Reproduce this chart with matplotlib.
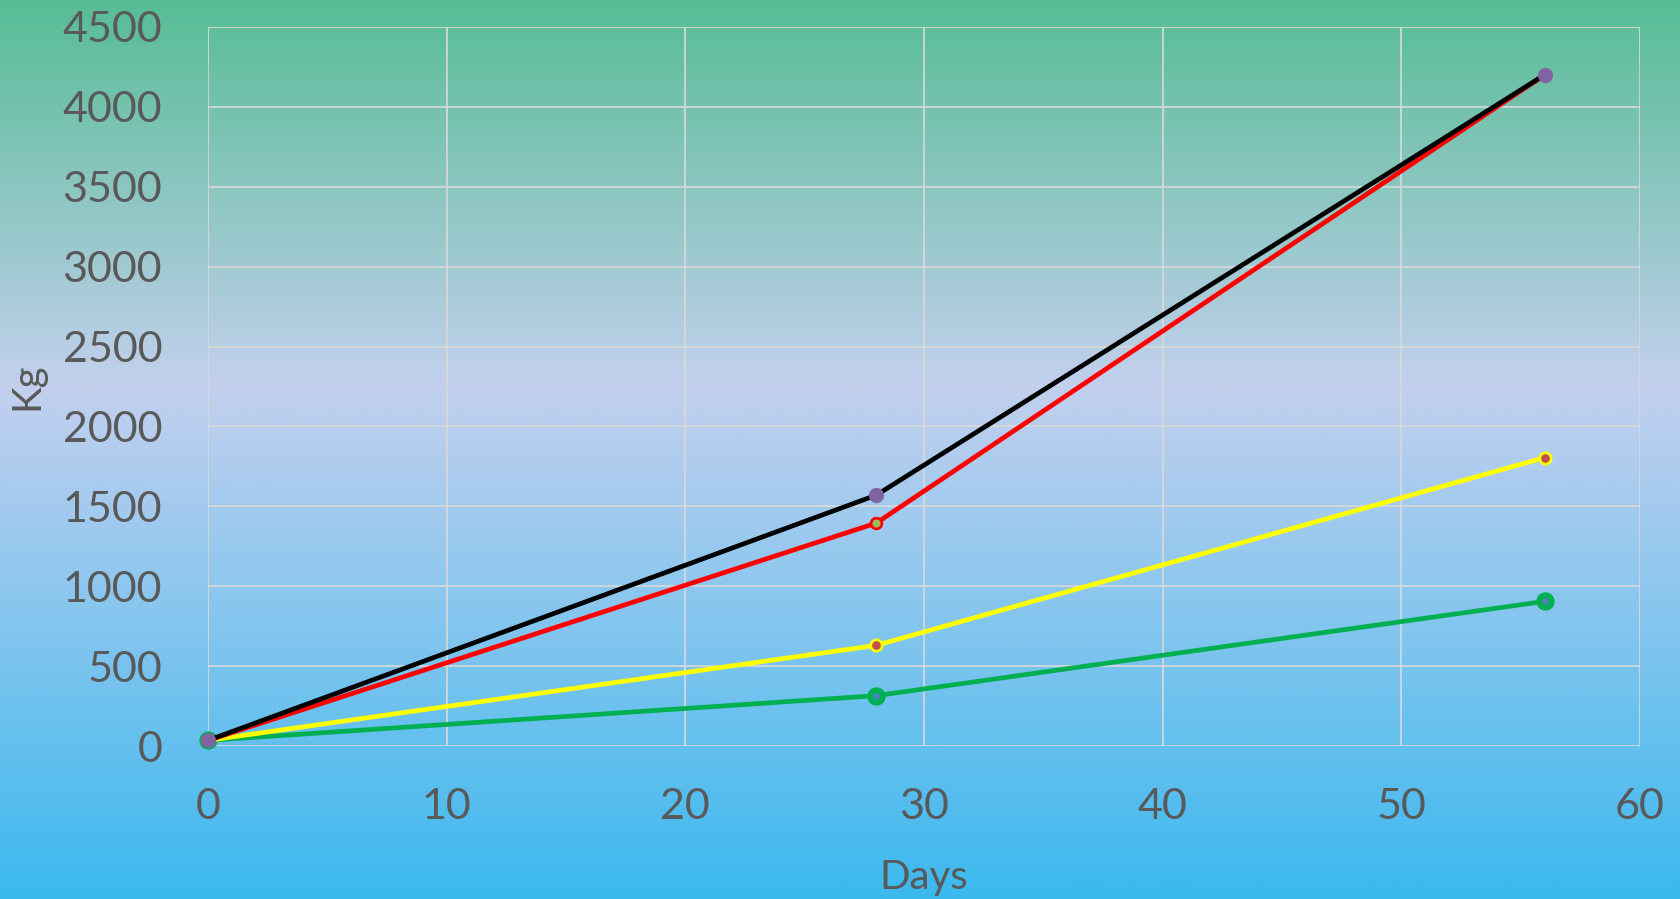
import numpy as np
import matplotlib
matplotlib.use("Agg")
import matplotlib.pyplot as plt
from matplotlib.colors import LinearSegmentedColormap

# Growth over time (kg) for four groups
days = [0, 28, 56]
series_black = [35, 1570, 4200]
series_red = [35, 1395, 4200]
series_yellow = [35, 630, 1805]
series_green = [35, 315, 905]

x_ticks = [0, 10, 20, 30, 40, 50, 60]
y_ticks = [0, 500, 1000, 1500, 2000, 2500, 3000, 3500, 4000, 4500]

plt.rcParams['font.family'] = ['Lato', 'DejaVu Sans']
text_color = '#595959'

fig = plt.figure(figsize=(16.8, 8.99), dpi=100)

# vertical gradient background
bg = fig.add_axes([0, 0, 1, 1], zorder=0)
cmap = LinearSegmentedColormap.from_list(
    'bg', [(0.0, '#57BD95'), (0.43, '#C3D0EE'), (1.0, '#3BB9EE')])
grad = np.linspace(0, 1, 512).reshape(-1, 1)
bg.imshow(grad, aspect='auto', cmap=cmap, extent=[0, 1, 0, 1], origin='upper')
bg.set_axis_off()

ax = fig.add_axes([208 / 1680, 1 - 746 / 899, (1640 - 208) / 1680, (746 - 27) / 899], zorder=1)
ax.patch.set_alpha(0)

lw = 3.4
ax.plot(days, series_green, color='#00B050', lw=lw, marker='o', ms=9,
        mfc='#4F81BD', mec='#00B050', mew=4.2, clip_on=False, zorder=3)
ax.plot(days, series_yellow, color='#FFFF00', lw=lw, marker='o', ms=8.2,
        mfc='#C0504D', mec='#FFFF00', mew=1.9, clip_on=False, zorder=4)
ax.plot(days, series_red, color='#FF0000', lw=lw, marker='o', ms=7.8,
        mfc='#9BBB59', mec='#FF0000', mew=1.9, clip_on=False, zorder=5)
ax.plot(days, series_black, color='#000000', lw=lw, marker='o', ms=10.5,
        mfc='#8064A2', mec='#8064A2', mew=0.5, clip_on=False, zorder=6)

ax.set_xlim(0, 60)
ax.set_ylim(0, 4500)
ax.set_xticks(x_ticks)
ax.set_yticks(y_ticks)
ax.grid(True, color='#D9D9D9', lw=1.2)
ax.set_axisbelow(True)
for s in ax.spines.values():
    s.set_visible(False)

ax.tick_params(axis='both', length=0, labelsize=31, colors=text_color)
ax.tick_params(axis='y', pad=33)
ax.tick_params(axis='x', pad=30)

ax.set_xlabel('Days', fontsize=29, color=text_color, labelpad=24)
ax.set_ylabel('Kg', fontsize=29, color=text_color, labelpad=12)

fig.savefig('out.png', dpi=100)
